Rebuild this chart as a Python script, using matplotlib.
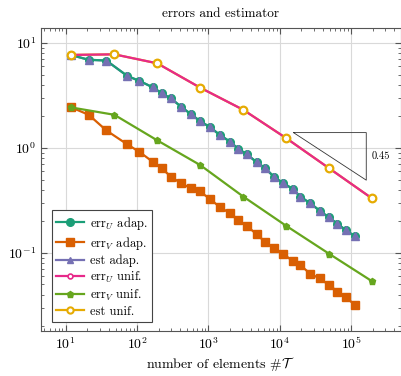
import matplotlib
matplotlib.use("Agg")
import matplotlib.pyplot as plt

plt.rcParams['font.family'] = 'serif'
plt.rcParams['font.serif'] = ['cmr10', 'DejaVu Serif']
plt.rcParams['mathtext.fontset'] = 'cm'
plt.rcParams['axes.formatter.use_mathtext'] = True
plt.rcParams['axes.unicode_minus'] = False

# uniform refinement
n_unif = [12, 48, 192, 768, 3072, 12288, 49152, 196608]
errU_unif = [7.7, 7.8, 6.4, 3.75, 2.31, 1.24, 0.64, 0.33]
est_unif = [7.7, 7.8, 6.4, 3.75, 2.31, 1.24, 0.64, 0.33]
errV_unif = [2.43, 2.07, 1.18, 0.686, 0.344, 0.181, 0.098, 0.0536]

# adaptive refinement
n_adap = [12, 21, 37, 73, 108, 166, 222, 299, 414, 566, 757, 1047, 1446, 1995,
          2612, 3493, 4775, 6300, 8340, 11270, 15270, 19320, 26700, 36070,
          48200, 64400, 84500, 114000]
errU_adap = [7.66, 6.92, 6.81, 4.85, 4.35, 3.78, 3.32, 2.96, 2.47, 2.10, 1.81,
             1.58, 1.33, 1.15, 0.982, 0.866, 0.727, 0.638, 0.528, 0.460, 0.406,
             0.344, 0.297, 0.253, 0.219, 0.189, 0.164, 0.1435]
est_adap = errU_adap
errV_adap = [2.43, 2.07, 1.47, 1.08, 0.916, 0.737, 0.638, 0.531, 0.460, 0.413,
             0.385, 0.327, 0.273, 0.239, 0.204, 0.179, 0.150, 0.126, 0.1106,
             0.098, 0.0828, 0.0764, 0.0633, 0.0571, 0.0498, 0.0427, 0.038, 0.0315]

# slope triangle
tri_x = [15560, 163000, 163000, 15560]
tri_y = [1.40, 1.40, 0.493, 1.40]
slope_label = "0.45"

fig = plt.figure(figsize=(4.02, 3.76), dpi=100)
ax = fig.add_axes([0.102, 0.1197, 0.8955, 0.8058])

lw = 1.6
teal, orange, purple = "#1b9e77", "#d95f02", "#7570b3"
pink, green, yellow = "#e7298a", "#66a61e", "#e6ab02"

# lines of the estimators sit below the error lines, markers on top
ax.plot(n_adap, est_adap, color=purple, lw=lw, zorder=2)
ax.plot(n_unif, est_unif, color=yellow, lw=lw, zorder=2)

ax.plot(n_adap, errU_adap, color=teal, lw=lw, marker="o", ms=5.5, zorder=3, label=r"err$_U$ adap.")
ax.plot(n_adap, errV_adap, color=orange, lw=lw, marker="s", ms=5.5, zorder=3, label=r"err$_V$ adap.")
ax.plot(n_adap, est_adap, color=purple, lw=0, marker="^", ms=5.5, zorder=4)
ax.plot([], [], color=purple, lw=lw, marker="^", ms=5, label="est adap.")
ax.plot(n_unif, errU_unif, color=pink, lw=lw, marker="o", ms=3.5, mfc="white", mew=1.2, zorder=3, label=r"err$_U$ unif.")
ax.plot(n_unif, errV_unif, color=green, lw=lw, marker="p", ms=4.5, zorder=3, label=r"err$_V$ unif.")
ax.plot(n_unif, est_unif, color=yellow, lw=0, marker="o", ms=5.5, mfc="white", mew=1.6, zorder=4)
ax.plot([], [], color=yellow, lw=lw, marker="o", ms=4.5, mfc="white", mew=1.5, label="est unif.")

ax.plot(tri_x, tri_y, color="#333333", lw=0.6)
ax.text(195000, 0.834, slope_label, fontsize=7.5, ha="left", va="center")

ax.set_xscale("log")
ax.set_yscale("log")
ax.set_xlim(4.5, 5e5)
ax.set_ylim(0.018, 13.9)
ax.grid(True, which="major", color="#d9d9d9", lw=0.8)
ax.set_axisbelow(True)
ax.tick_params(which="both", direction="in", top=True, right=True, color="#555555")
ax.tick_params(which="major", length=4, labelsize=10)
ax.tick_params(which="minor", length=2)
for s in ax.spines.values():
    s.set_color("#555555")

ax.set_title("errors and estimator", fontsize=9.5, pad=8)
ax.set_xlabel(r"number of elements $\#\mathcal{T}$", fontsize=10, labelpad=2)

leg = ax.legend(loc="lower left", bbox_to_anchor=(0.03, 0.03), fontsize=9,
                fancybox=False, edgecolor="#444444", framealpha=1, borderaxespad=0,
                handlelength=2.2, labelspacing=0.22, borderpad=0.35, handletextpad=0.5)
leg.get_frame().set_linewidth(0.8)

fig.savefig("out.png", dpi=100)
